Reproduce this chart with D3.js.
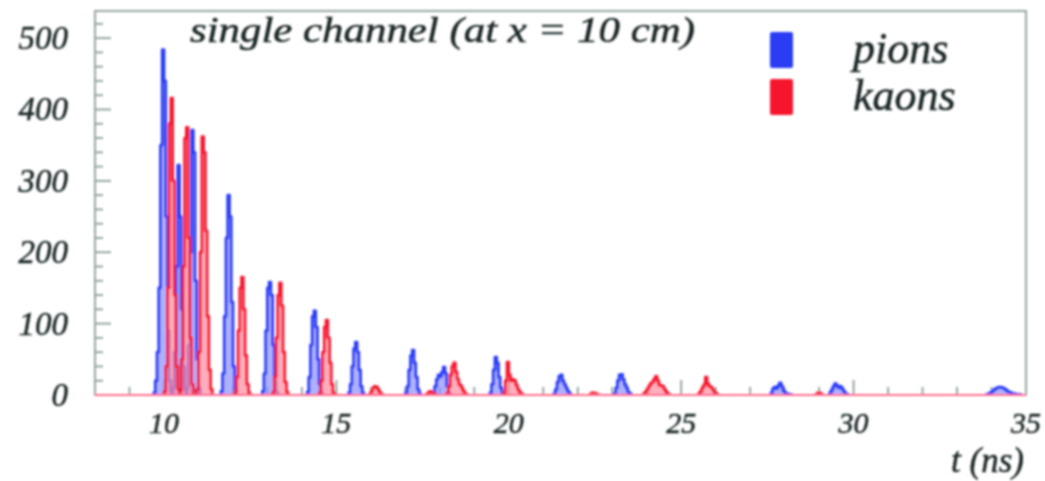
<!DOCTYPE html>
<html>
<head>
<meta charset="utf-8">
<script src="https://cdn.jsdelivr.net/npm/d3@7"></script>
<style>
  body { margin: 0; background: #fff; }
  svg { display: block; }
  text { font-family: "Liberation Serif", "DejaVu Serif", serif; font-style: italic; fill: #1c2626; stroke: #1c2626; stroke-width: 0.5px; }
</style>
</head>
<body>
<div id="chart"></div>
<script>
// bin width of the histograms (ns)
var binWidth = 0.05;

// pions: each peak = [start time, counts per bin]
var pions = [
  [9.70, [3, 20, 60, 150, 350, 484, 440, 250, 90, 20, 4]],
  [10.25, [10, 60, 180, 322, 250, 120, 40, 8]],
  [10.65, [10, 70, 200, 371, 340, 160, 50, 10]],
  [11.65, [5, 30, 110, 220, 280, 250, 130, 40, 8]],
  [12.85, [5, 30, 90, 150, 158, 140, 70, 20, 4]],
  [14.15, [4, 25, 70, 110, 118, 95, 50, 15, 3]],
  [15.35, [3, 15, 40, 65, 74, 60, 35, 12, 3]],
  [17.00, [3, 12, 35, 55, 63, 45, 25, 8, 2]],
  [17.80, [3, 12, 22, 28, 26, 32, 39, 30, 12, 3]],
  [19.45, [3, 15, 35, 53, 45, 25, 10, 3]],
  [21.30, [2, 8, 18, 26, 28, 20, 15, 10, 5, 2]],
  [23.05, [2, 10, 20, 28, 29, 22, 15, 10, 4, 2]],
  [27.60, [3, 9, 11, 9, 13, 17, 12, 6, 3, 2, 1, 1]],
  [29.30, [3, 7, 12, 16, 13, 10, 12, 9, 5, 2, 1]],
  [33.85, [1, 2, 3, 5, 7, 9, 10, 11, 11, 10, 9, 7, 5, 4, 3, 2, 2, 1, 1, 1]]
];

// kaons
var kaons = [
  [10.00, [5, 40, 150, 380, 416, 300, 140, 40, 8]],
  [10.45, [5, 50, 180, 360, 375, 220, 80, 15]],
  [10.95, [8, 60, 200, 362, 340, 230, 110, 35, 8]],
  [12.05, [4, 25, 90, 150, 165, 120, 55, 15, 3]],
  [13.15, [4, 25, 80, 140, 157, 125, 60, 18, 4]],
  [14.50, [3, 20, 60, 95, 105, 80, 45, 15, 3]],
  [15.95, [1, 5, 10, 12, 11, 7, 3, 1]],
  [17.60, [1, 3, 5, 4, 2, 1]],
  [18.20, [3, 12, 28, 40, 45, 32, 22, 15, 12, 7, 3, 1]],
  [19.85, [3, 20, 46, 28, 20, 22, 20, 14, 8, 4, 2]],
  [22.35, [1, 3, 3, 2, 1]],
  [23.90, [2, 4, 8, 12, 16, 18, 22, 26, 20, 14, 13, 12, 8, 4, 2]],
  [25.50, [2, 5, 10, 14, 25, 16, 12, 11, 8, 4, 2]],
  [28.90, [1, 3, 3, 1]]
];

var xTicks = [10, 15, 20, 25, 30, 35];
var yTicks = [0, 100, 200, 300, 400, 500];
var titleText = "single channel (at x = 10 cm)";
var legendNames = ["pions", "kaons"];

var width = 1045, height = 481;
var margin = {top: 11, right: 19, bottom: 86, left: 95};

var x = d3.scaleLinear().domain([8, 35]).range([margin.left, width - margin.right]);
var y = d3.scaleLinear().domain([0, 538]).range([height - margin.bottom, margin.top]);

var svg = d3.select("#chart").append("svg")
  .attr("width", width)
  .attr("height", height);

var defs = svg.append("defs");
defs.append("filter").attr("id", "soft")
  .append("feGaussianBlur").attr("stdDeviation", 0.8);

var g = svg.append("g").attr("filter", "url(#soft)");

var frameColor = "#8c9c9a";

// frame
g.append("rect")
  .attr("x", x.range()[0])
  .attr("y", y.range()[1])
  .attr("width", x.range()[1] - x.range()[0])
  .attr("height", y.range()[0] - y.range()[1])
  .attr("fill", "none")
  .attr("stroke", frameColor)
  .attr("stroke-width", 1.8);

// y ticks (inside, pointing right)
var yMinor = d3.range(0, 540, 20);
g.append("g").selectAll("line")
  .data(yMinor)
  .enter().append("line")
  .attr("x1", x.range()[0])
  .attr("x2", function(d) { return x.range()[0] + (d % 100 === 0 ? 16 : 8); })
  .attr("y1", function(d) { return y(d); })
  .attr("y2", function(d) { return y(d); })
  .attr("stroke", frameColor)
  .attr("stroke-width", 1.8);

// x ticks (inside, pointing up)
var xMinor = d3.range(9, 35, 1);
g.append("g").selectAll("line")
  .data(xMinor)
  .enter().append("line")
  .attr("x1", function(d) { return x(d); })
  .attr("x2", function(d) { return x(d); })
  .attr("y1", y(0))
  .attr("y2", function(d) { return y(0) - (d % 5 === 0 ? 15 : 8); })
  .attr("stroke", frameColor)
  .attr("stroke-width", 1.8);

// histogram helpers
function peakPoints(p) {
  var pts = p[1].map(function(c, i) { return [p[0] + i * binWidth, c]; });
  pts.push([p[0] + p[1].length * binWidth, 0]);
  pts.unshift([p[0], 0]);
  return pts;
}

var area = d3.area().curve(d3.curveStepAfter)
  .x(function(d) { return x(d[0]); })
  .y0(y(0))
  .y1(function(d) { return y(d[1]); });

var line = d3.line().curve(d3.curveStepAfter)
  .x(function(d) { return x(d[0]); })
  .y(function(d) { return y(d[1]); });

function drawSeries(data, fill, stroke) {
  var s = g.append("g");
  s.selectAll("path.fill")
    .data(data)
    .enter().append("path")
    .attr("class", "fill")
    .attr("d", function(d) { return area(peakPoints(d)); })
    .attr("fill", fill)
    .attr("fill-opacity", 0.7);
  s.selectAll("path.edge")
    .data(data)
    .enter().append("path")
    .attr("class", "edge")
    .attr("d", function(d) { return line(peakPoints(d)); })
    .attr("fill", "none")
    .attr("stroke", stroke)
    .attr("stroke-width", 2.8)
    .attr("stroke-linejoin", "round");
}

drawSeries(pions, "#8c90ff", "#2b3cf5");
drawSeries(kaons, "#ff8aa0", "#f5142e");

// baseline
g.append("line")
  .attr("x1", x.range()[0])
  .attr("x2", x.range()[1])
  .attr("y1", y(0))
  .attr("y2", y(0))
  .attr("stroke", "#ff7090")
  .attr("stroke-width", 2);

// tick labels
g.append("g").selectAll("text")
  .data(yTicks)
  .enter().append("text")
  .attr("x", 68)
  .attr("y", function(d) { return y(d) + 11; })
  .attr("text-anchor", "end")
  .style("font-size", "33px")
  .text(function(d) { return d; });

g.append("g").selectAll("text")
  .data(xTicks)
  .enter().append("text")
  .attr("x", function(d) { return x(d); })
  .attr("y", 433)
  .attr("text-anchor", "middle")
  .style("font-size", "30px")
  .text(function(d) { return d; });

// axis title
g.append("text")
  .attr("x", 1024)
  .attr("y", 472)
  .attr("text-anchor", "end")
  .style("font-size", "35px")
  .text("t (ns)");

// title
g.append("text")
  .attr("x", 190)
  .attr("y", 42)
  .attr("textLength", 505)
  .attr("lengthAdjust", "spacingAndGlyphs")
  .style("font-size", "36px")
  .text(titleText);

// legend
var legColors = ["#2b3cf5", "#f5142e"];
var leg = g.append("g").selectAll("g")
  .data(legendNames)
  .enter().append("g")
  .attr("transform", function(d, i) { return "translate(770," + (32 + i * 47) + ")"; });
leg.append("rect")
  .attr("width", 23)
  .attr("height", 36)
  .attr("rx", 2)
  .attr("fill", function(d, i) { return legColors[i]; });
leg.append("text")
  .attr("x", 83)
  .attr("y", 31)
  .style("font-size", "44px")
  .text(function(d) { return d; });
</script>
</body>
</html>
